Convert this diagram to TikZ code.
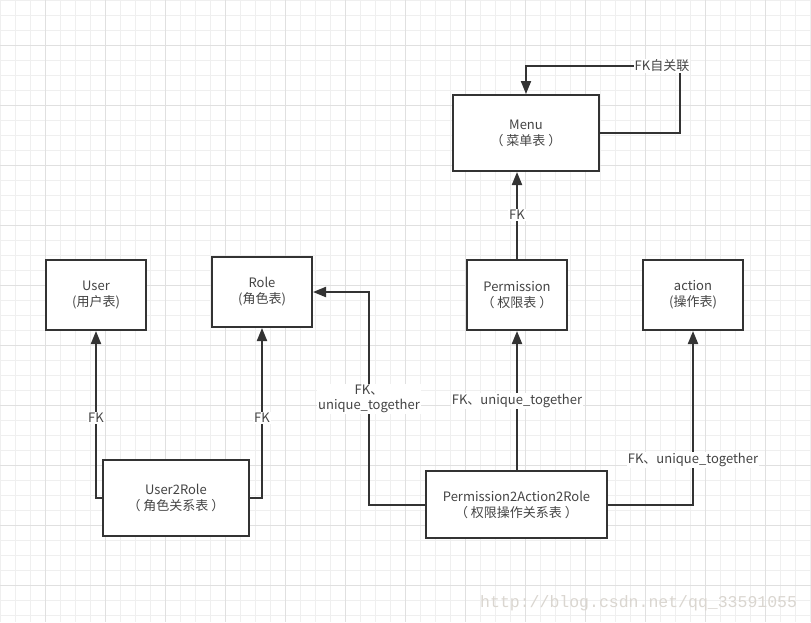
\documentclass[tikz,border=0pt]{standalone}
\usepackage{fontspec}
\setmainfont{Noto Sans CJK SC}
\newfontfamily\wmfont{Liberation Mono}
\usetikzlibrary{arrows.meta}
\definecolor{minorc}{HTML}{EFEFEF}
\definecolor{majorc}{HTML}{E0E0E0}
\definecolor{linec}{HTML}{333333}
\definecolor{textc}{HTML}{444444}
\definecolor{wmc}{HTML}{DAD6D0}
\newcommand{\lp}{（\hspace{3pt}}
\newcommand{\rp}{\hspace{3pt}）}
\begin{document}
\begin{tikzpicture}[x=1pt,y=-1pt,
  tbl/.style={draw=linec, line width=2pt, fill=white, text=textc, align=center,
    font=\fontsize{13}{16}\selectfont, inner sep=0pt},
  conn/.style={draw=linec, line width=2pt, line join=miter,
    -{Triangle[length=13pt,width=10pt]}},
  lbl/.style={fill=white, text=textc, font=\fontsize{13}{15}\selectfont,
    inner sep=1pt, align=center}]
\useasboundingbox (0,0) rectangle (811,622);
\fill[white] (0,0) rectangle (811,622);
\foreach \x in {0,15,...,810} \draw[minorc, line width=1pt] (\x,0) -- (\x,622);
\foreach \y in {0,15,...,615} \draw[minorc, line width=1pt] (0,\y) -- (811,\y);
\foreach \x in {45,105,...,765} \draw[majorc, line width=1pt] (\x,0) -- (\x,622);
\foreach \y in {45,105,...,585} \draw[majorc, line width=1pt] (0,\y) -- (811,\y);

\node[text=wmc, font=\wmfont\fontsize{16.5}{18}\selectfont, anchor=base west, inner sep=0pt] (wm) at (480,607) {http://blog.csdn.net/qq\_33591055};

\node[tbl, minimum width=146pt, minimum height=76pt] (menu) at (526,133) {Menu\\\lp 菜单表\rp};
\node[tbl, minimum width=100pt, minimum height=70pt] (user) at (96,295) {User\\(用户表)};
\node[tbl, minimum width=100pt, minimum height=70pt] (role) at (262,292) {Role\\(角色表)};
\node[tbl, minimum width=100pt, minimum height=70pt] (perm) at (517,295) {Permission\\\lp 权限表\rp};
\node[tbl, minimum width=100pt, minimum height=70pt] (action) at (693,295) {action\\(操作表)};
\node[tbl, minimum width=146pt, minimum height=76pt] (u2r) at (176,498) {User2Role\\\lp 角色关系表\rp};
\node[tbl, minimum width=181pt, minimum height=67pt] (p2a) at (516.5,504.5) {Permission2Action2Role\\\lp 权限操作关系表\rp};

\coordinate (c1) at (96,498);
\coordinate (c2) at (262,498);
\coordinate (c3) at (369,505);
\coordinate (c4) at (369,292);
\coordinate (c5) at (693,505);
\coordinate (c6) at (680,133);
\coordinate (c7) at (680,66);
\coordinate (c8) at (526,66);

\draw[conn] (u2r.west) -- (c1) -- (user.south);
\draw[conn] (u2r.east) -- (c2) -- (role.south);
\draw[conn] (p2a.west |- c3) -- (c3) -- (c4) -- (role.east);
\draw[conn] (p2a.north -| perm.south) -- (perm.south);
\draw[conn] (p2a.east |- c5) -- (c5) -- (action.south);
\draw[conn] (perm.north) -- (menu.south -| perm.north);
\draw[conn] (menu.east) -- (c6) -- (c7) -- (c8) -- (menu.north);

\node[lbl] (l1) at (96,418) {FK};
\node[lbl] (l2) at (262,418) {FK};
\node[lbl] (l3) at (369,399) {FK、\\unique\_together};
\node[lbl] (l4) at (517,401) {FK、unique\_together};
\node[lbl] (l5) at (693,460) {FK、unique\_together};
\node[lbl] (l6) at (517,215) {FK};
\node[lbl] (l7) at (662,66) {FK自关联};
\end{tikzpicture}
\end{document}
